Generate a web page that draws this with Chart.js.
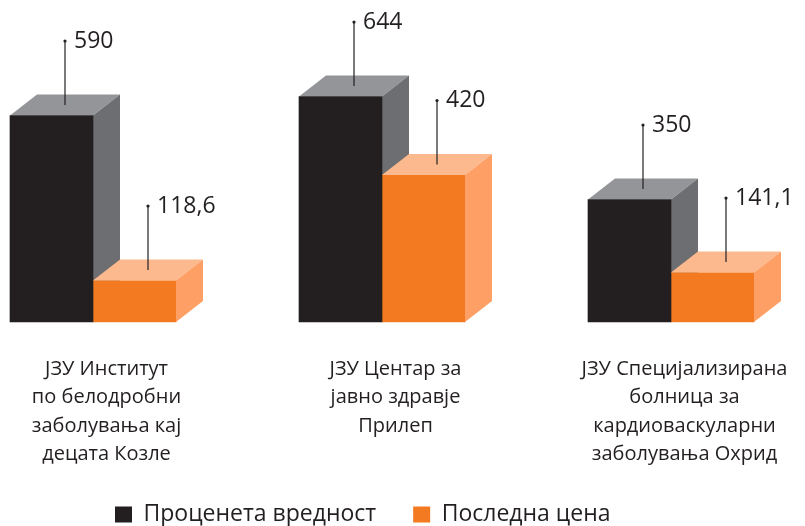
<!DOCTYPE html>
<html>
<head>
<meta charset="utf-8">
<script src="https://cdn.jsdelivr.net/npm/chart.js"></script>
<style>
  html, body { margin: 0; padding: 0; background: #fff; }
  #wrap { width: 805px; height: 526px; }
</style>
</head>
<body>
<div id="wrap"><canvas id="tenderChart"></canvas></div>
<script>
const institucii = [
    ["ЈЗУ Институт", "по белодробни", "заболувања кај", "децата Козле"],
    ["ЈЗУ Центар за", "јавно здравје", "Прилеп"],
    ["ЈЗУ Специјализирана", "болница за", "кардиоваскуларни", "заболувања Охрид"]
];
const procenetaVrednost = [590, 644, 350];
const poslednaCena = [118.6, 420, 141.1];
const serii = ["Проценета вредност", "Последна цена"];

// boi: prednja strana, gore, desno
const crna = { front: "#231f20", top: "#939598", side: "#6d6e71" };
const portokalova = { front: "#f47a22", top: "#fdb98e", side: "#fe9f65" };
const DX = 27, DY = 21;

function broj(v) {
    return String(v).replace(".", ",");
}

function kocka(ctx, bar, boja) {
    const left = bar.x - bar.width / 2;
    const right = bar.x + bar.width / 2;
    ctx.fillStyle = boja.top;
    ctx.beginPath();
    ctx.moveTo(left, bar.y);
    ctx.lineTo(left + DX, bar.y - DY);
    ctx.lineTo(right + DX, bar.y - DY);
    ctx.lineTo(right, bar.y);
    ctx.closePath();
    ctx.fill();
    ctx.fillStyle = boja.side;
    ctx.beginPath();
    ctx.moveTo(right, bar.y);
    ctx.lineTo(right + DX, bar.y - DY);
    ctx.lineTo(right + DX, bar.base - DY);
    ctx.lineTo(right, bar.base);
    ctx.closePath();
    ctx.fill();
}

const kocki3d = {
    id: 'kocki3d',
    beforeDatasetsDraw(chart) {
        const ctx = chart.ctx;
        ctx.save();
        chart.getDatasetMeta(0).data.forEach(bar => kocka(ctx, bar, crna));
        ctx.restore();
    },
    afterDatasetsDraw(chart) {
        const ctx = chart.ctx;
        ctx.save();
        chart.getDatasetMeta(1).data.forEach(bar => kocka(ctx, bar, portokalova));

        // linii so vrednosti
        ctx.strokeStyle = "#231f20";
        ctx.fillStyle = "#231f20";
        ctx.lineWidth = 1.2;
        ctx.font = "23px 'Open Sans'";
        ctx.textBaseline = "middle";
        ctx.textAlign = "left";
        chart.data.datasets.forEach((ds, d) => {
            chart.getDatasetMeta(d).data.forEach((bar, i) => {
                const lx = bar.x + DX / 2;
                const ly = bar.y - DY / 2;
                const ty = ly - 64;
                ctx.beginPath();
                ctx.moveTo(lx, ly);
                ctx.lineTo(lx, ty);
                ctx.stroke();
                ctx.beginPath();
                ctx.arc(lx, ty, 1.6, 0, Math.PI * 2);
                ctx.fill();
                ctx.fillText(broj(ds.data[i]), lx + 9, ty);
            });
        });
        ctx.restore();
    }
};

Chart.defaults.font.family = "'Open Sans', sans-serif";
Chart.defaults.color = "#231f20";

const tenderChart = new Chart('tenderChart', {
    type: 'bar',
    data: {
        labels: institucii,
        datasets: [{
            label: serii[0],
            data: procenetaVrednost,
            backgroundColor: crna.front,
            barThickness: 83,
            clip: false
        }, {
            label: serii[1],
            data: poslednaCena,
            backgroundColor: portokalova.front,
            barThickness: 83,
            clip: false
        }]
    },
    options: {
        responsive: true,
        maintainAspectRatio: false,
        animation: false,
        layout: {
            padding: { top: 42, left: 78, right: 134, bottom: -10 }
        },
        scales: {
            x: {
                offset: false,
                grid: { display: false, drawTicks: false },
                border: { display: false },
                ticks: {
                    autoSkip: false,
                    maxRotation: 0,
                    padding: 33,
                    labelOffset: 13.5,
                    color: "#231f20",
                    font: { size: 20, lineHeight: 1.425 }
                },
                afterFit(scale) {
                    scale.height = 144;
                    scale.paddingLeft = 0;
                    scale.paddingRight = 0;
                }
            },
            y: {
                min: 0,
                max: 800,
                grid: { display: false },
                border: { display: false },
                ticks: { display: false },
                afterFit(scale) { scale.width = 15; }
            }
        },
        plugins: {
            legend: {
                position: 'bottom',
                align: 'start',
                labels: {
                    boxWidth: 17,
                    boxHeight: 16,
                    padding: 37,
                    color: "#231f20",
                    font: { size: 23, lineHeight: 1 }
                }
            },
            tooltip: { enabled: false }
        }
    },
    plugins: [kocki3d]
});
</script>
</body>
</html>
